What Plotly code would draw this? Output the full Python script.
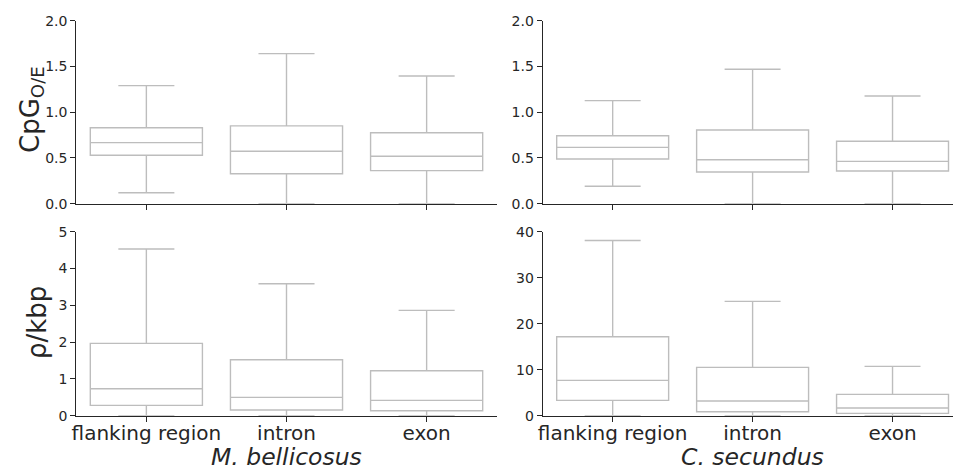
import plotly.graph_objects as go

categories = ["flanking region", "intron", "exon"]

# CpG O/E, M. bellicosus
mb_cpg_lower = [0.12, 0.0, 0.0]
mb_cpg_q1 = [0.529, 0.328, 0.361]
mb_cpg_median = [0.667, 0.573, 0.518]
mb_cpg_q3 = [0.83, 0.85, 0.776]
mb_cpg_upper = [1.29, 1.64, 1.396]

# CpG O/E, C. secundus
cs_cpg_lower = [0.19, 0.0, 0.0]
cs_cpg_q1 = [0.489, 0.346, 0.357]
cs_cpg_median = [0.616, 0.481, 0.463]
cs_cpg_q3 = [0.743, 0.805, 0.682]
cs_cpg_upper = [1.126, 1.469, 1.177]

# rho/kbp, M. bellicosus
mb_rho_lower = [0.0, 0.0, 0.0]
mb_rho_q1 = [0.281, 0.154, 0.136]
mb_rho_median = [0.734, 0.498, 0.417]
mb_rho_q3 = [1.966, 1.522, 1.223]
mb_rho_upper = [4.53, 3.587, 2.862]

# rho/kbp, C. secundus
cs_rho_lower = [0.0, 0.0, 0.0]
cs_rho_q1 = [3.33, 0.87, 0.51]
cs_rho_median = [7.68, 3.19, 1.67]
cs_rho_q3 = [17.17, 10.5, 4.64]
cs_rho_upper = [38.1, 24.86, 10.72]

species = ["M. bellicosus", "C. secundus"]
y_labels = ["CpG<sub>O/E</sub>", "\u03c1/kbp"]

W, H = 953, 473
BOX_COLOR = "#bdbdbd"
AX_COLOR = "#262626"
FONT = "DejaVu Sans"

fig = go.Figure()

panels = [
    ("x", "y", mb_cpg_lower, mb_cpg_q1, mb_cpg_median, mb_cpg_q3, mb_cpg_upper),
    ("x2", "y2", cs_cpg_lower, cs_cpg_q1, cs_cpg_median, cs_cpg_q3, cs_cpg_upper),
    ("x3", "y3", mb_rho_lower, mb_rho_q1, mb_rho_median, mb_rho_q3, mb_rho_upper),
    ("x4", "y4", cs_rho_lower, cs_rho_q1, cs_rho_median, cs_rho_q3, cs_rho_upper),
]
for xa, ya, lo, q1, med, q3, up in panels:
    fig.add_trace(go.Box(
        x=categories, q1=q1, median=med, q3=q3, lowerfence=lo, upperfence=up,
        xaxis=xa, yaxis=ya, width=0.8, whiskerwidth=0.5,
        fillcolor="rgba(255,255,255,0)", line=dict(color=BOX_COLOR, width=1.4),
        boxpoints=False, showlegend=False, hoverinfo="skip",
    ))

def px_x(a, b):
    return [a / W, b / W]

def px_y(top, bottom):
    return [1 - bottom / H, 1 - top / H]

left_dom = px_x(76.3, 496.7)
right_dom = px_x(542.7, 952.7)
top_dom = px_y(20.7, 203.7)
bot_dom = px_y(231.7, 415.7)

tickfont = dict(family=FONT, size=14, color=AX_COLOR)
xcommon = dict(type="category", showline=True, linecolor=AX_COLOR, linewidth=1.2,
               ticks="outside", ticklen=5, tickwidth=1.1, tickcolor=AX_COLOR,
               showgrid=False, zeroline=False, categoryorder="array",
               categoryarray=categories, automargin=False)
ycommon = dict(showline=True, linecolor=AX_COLOR, linewidth=1.2, ticks="outside",
               ticklen=5, tickwidth=1.1, tickcolor=AX_COLOR, showgrid=False,
               zeroline=False, tickfont=tickfont, automargin=False)
xbot_font = dict(family=FONT, size=20, color=AX_COLOR)

fig.update_layout(
    width=W, height=H, margin=dict(l=0, r=0, t=0, b=0, pad=0), autosize=False,
    plot_bgcolor="white", paper_bgcolor="white",
    font=dict(family=FONT, color=AX_COLOR),
    xaxis=dict(domain=left_dom, anchor="y", range=[-0.5, 2.5], showticklabels=False, **xcommon),
    xaxis2=dict(domain=right_dom, anchor="y2", range=[-0.5, 2.43], showticklabels=False, **xcommon),
    xaxis3=dict(domain=left_dom, anchor="y3", range=[-0.5, 2.5], tickfont=xbot_font,
                ticklabelstandoff=-6, **xcommon),
    xaxis4=dict(domain=right_dom, anchor="y4", range=[-0.5, 2.43], tickfont=xbot_font,
                ticklabelstandoff=-6, **xcommon),
    yaxis=dict(domain=top_dom, anchor="x", range=[0, 2.0], dtick=0.5, tickformat=".1f", **ycommon),
    yaxis2=dict(domain=top_dom, anchor="x2", range=[0, 2.0], dtick=0.5, tickformat=".1f", **ycommon),
    yaxis3=dict(domain=bot_dom, anchor="x3", range=[0, 5], dtick=1, **ycommon),
    yaxis4=dict(domain=bot_dom, anchor="x4", range=[0, 40], dtick=10, **ycommon),
)

annotations = [
    dict(text=y_labels[0], x=32 / W, y=1 - 110 / H, textangle=-90, yanchor="middle",
         font=dict(family=FONT, size=26, color=AX_COLOR)),
    dict(text=y_labels[1], x=37 / W, y=1 - 323 / H, textangle=-90, yanchor="middle",
         font=dict(family=FONT, size=26, color=AX_COLOR)),
    dict(text="<i>" + species[0] + "</i>", x=286.7 / W, y=0, yanchor="bottom",
         font=dict(family=FONT, size=23.5, color=AX_COLOR)),
    dict(text="<i>" + species[1] + "</i>", x=752.7 / W, y=0, yanchor="bottom",
         font=dict(family=FONT, size=23.5, color=AX_COLOR)),
]
for a in annotations:
    a.update(xref="paper", yref="paper", showarrow=False, xanchor="center")
fig.update_layout(annotations=annotations)

fig.write_html("out.html", config={"responsive": False, "displayModeBar": False},
               post_script="document.body.style.margin='0';")
